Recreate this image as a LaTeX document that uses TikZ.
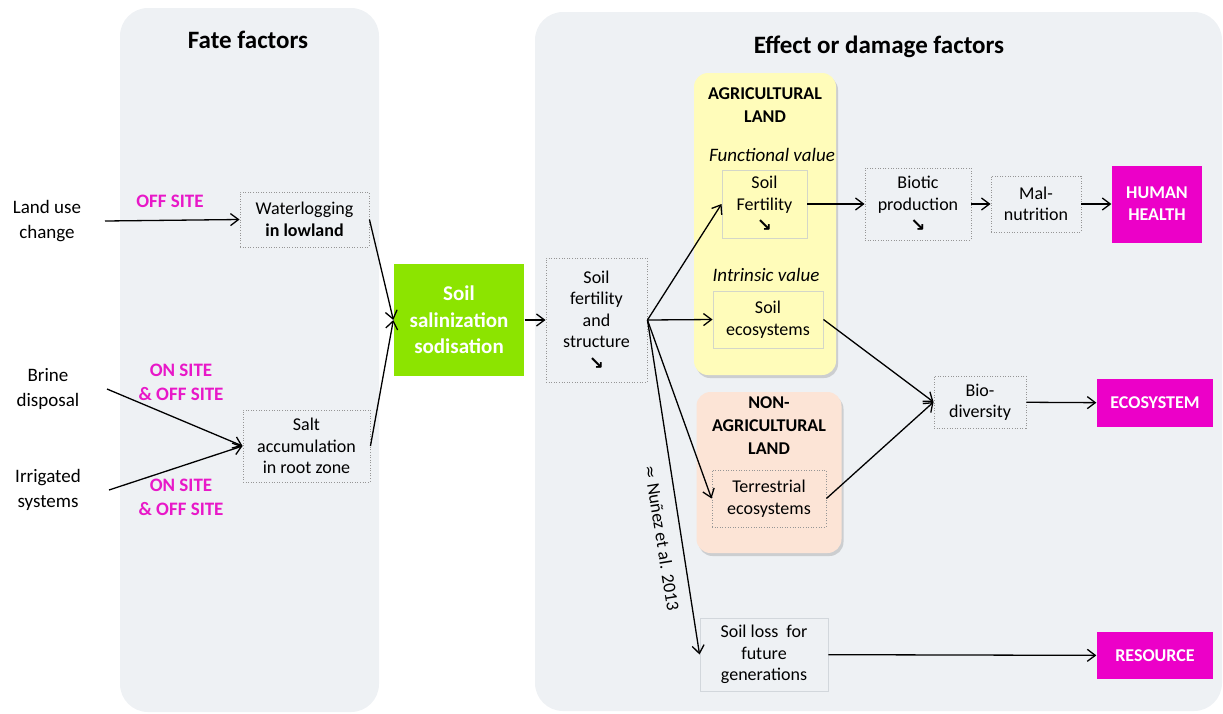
\documentclass[tikz,border=0pt]{standalone}
\usepackage{fontspec}
\setmainfont{Carlito}
\newfontfamily\symfont{DejaVu Sans}
\usetikzlibrary{arrows.meta,shadows}

\definecolor{panelgray}{RGB}{238,241,244}
\definecolor{saltgreen}{RGB}{140,228,0}
\definecolor{hitpink}{RGB}{236,0,200}
\definecolor{sitepink}{RGB}{232,24,200}
\definecolor{agriyellow}{RGB}{255,252,186}
\definecolor{nonagrisalmon}{RGB}{252,228,214}
\definecolor{dotgray}{RGB}{150,150,150}
\definecolor{lightedge}{RGB}{212,214,200}

\tikzset{
  txt/.style={align=center, inner sep=0pt, font=\fontsize{18}{21.5}\selectfont},
  outer/.style={align=center, inner sep=0pt, font=\fontsize{19}{25}\selectfont},
  sitelab/.style={align=center, inner sep=0pt, text=sitepink, font=\fontsize{19}{24}\selectfont\bfseries},
  dotbox/.style={txt, draw=dotgray, line width=0.9pt, dash pattern=on 1pt off 1.6pt},
  plainbox/.style={txt, draw=lightedge, line width=0.9pt},
  hitbox/.style={align=center, inner sep=0pt, fill=hitpink, text=white, font=\fontsize{18}{22}\selectfont\bfseries},
  landbox/.style={rounded corners=14pt, inner sep=0pt, drop shadow={shadow xshift=2pt, shadow yshift=-3pt, opacity=0.3}},
  >={Straight Barb[length=8pt,width=12pt]},
  every path/.append style={line width=1.3pt}
}
\newcommand{\downarr}{{\symfont\bfseries\fontsize{18}{18}\selectfont ↘}}

\begin{document}
\begin{tikzpicture}[x=1pt, y=-1pt]
\useasboundingbox (0,0) rectangle (1223,713);
\fill[panelgray, rounded corners=28pt] (120,8) rectangle (379,712);
\fill[panelgray, rounded corners=28pt] (535,12) rectangle (1222,711);
\node[txt, font=\fontsize{25}{28}\selectfont\bfseries] (fate) at (248,40) {Fate factors};
\node[txt, font=\fontsize{25}{28}\selectfont\bfseries] (effect) at (879,47) {Effect or damage factors};

\node[outer] (landuse) at (47,221) {Land use\\change};
\node[outer] (brine) at (48,389) {Brine\\disposal};
\node[outer] (irrig) at (48,490) {Irrigated\\systems};
\node[sitelab] (offsite) at (170,201) {OFF SITE};
\node[sitelab] (onoff1) at (181,382) {ON SITE\\\& OFF SITE};
\node[sitelab] (onoff2) at (181,497) {ON SITE\\\& OFF SITE};

\node[dotbox, minimum width=129pt, minimum height=55pt] (wlog) at (304.5,219.5) {Waterlogging\\\textbf{in lowland}};
\node[dotbox, minimum width=127pt, minimum height=72pt] (salt) at (306.5,446) {Salt\\accumulation\\in root zone};
\node[txt, fill=saltgreen, text=white, font=\fontsize{21}{26.5}\selectfont\bfseries, minimum width=130pt, minimum height=112pt] (salin) at (459,320) {Soil\\salinization\\sodisation};
\node[dotbox, minimum width=101pt, minimum height=124pt] (sfs) at (596.5,320) {Soil\\fertility\\and\\structure\\\downarr};

\node[landbox, fill=agriyellow, minimum width=142pt, minimum height=302pt] (agri) at (765,224) {};
\node[txt, font=\fontsize{18}{23}\selectfont\bfseries] (agrilab) at (765,105) {AGRICULTURAL\\LAND};
\node[txt, font=\fontsize{19}{21}\selectfont\itshape] (funcval) at (772,155) {Functional value};
\node[txt, font=\fontsize{19}{21}\selectfont\itshape] (intval) at (766,275) {Intrinsic value};
\node[plainbox, minimum width=85pt, minimum height=68pt] (fert) at (764.5,204) {Soil\\Fertility\\\downarr};
\node[plainbox, minimum width=110pt, minimum height=57pt] (soileco) at (768,319.5) {Soil\\ecosystems};

\node[landbox, fill=nonagrisalmon, minimum width=145pt, minimum height=161pt] (nonagri) at (769,472.5) {};
\node[txt, font=\fontsize{18}{23}\selectfont\bfseries] (nonagrilab) at (769,426) {NON-\\AGRICULTURAL\\LAND};
\node[dotbox, minimum width=114pt, minimum height=57pt] (terr) at (769,498.5) {Terrestrial\\ecosystems};

\node[dotbox, minimum width=106pt, minimum height=72pt] (biotic) at (918,204) {Biotic\\production\\\downarr};
\node[dotbox, minimum width=90pt, minimum height=56pt] (maln) at (1036,204) {Mal-\\nutrition};
\node[hitbox, minimum width=90pt, minimum height=77pt] (hh) at (1157,204) {HUMAN\\HEALTH};
\node[dotbox, minimum width=92pt, minimum height=52pt] (biodiv) at (980,402) {Bio-\\diversity};
\node[hitbox, minimum width=116pt, minimum height=48pt] (ecos) at (1155,403) {ECOSYSTEM};
\node[plainbox, draw={rgb,255:red,210;green,215;blue,220}, minimum width=128pt, minimum height=73pt] (loss) at (764,654.5) {Soil loss\ \ for\\future\\generations};
\node[hitbox, minimum width=116pt, minimum height=47pt] (res) at (1155,655.5) {RESOURCE};
\node[txt, rotate=-80.9] (nunez) at (662,538) {{\symfont\fontsize{16}{16}\selectfont ≈} Nuñez et al. 2013};

\coordinate (lu) at (105,221);
\coordinate (br) at (107,389);
\coordinate (ir) at (109,490);
\draw[->] (lu) -- (wlog.west);
\draw[->] (br) -- (salt.west);
\draw[->] (ir) -- (salt.west);
\draw[->] (wlog.east) -- (salin.west);
\draw[->] (salt.east) -- (salin.west);
\draw[->] (salin) -- (sfs);
\draw[->] (sfs.east) -- (fert.west);
\draw[->] (sfs.east) -- (soileco.west);
\draw[->] (sfs.east) -- (terr.west);
\draw[->] (sfs.east) -- (loss.west);
\draw[->] (fert) -- (biotic);
\draw[->] (biotic) -- (maln);
\draw[->] (maln) -- (hh);
\draw[->] (soileco.east) -- (biodiv.west);
\draw[->] (terr.east) -- (biodiv.west);
\draw[->] (biodiv) -- (ecos);
\draw[->] (loss) -- (res);
\end{tikzpicture}
\end{document}
